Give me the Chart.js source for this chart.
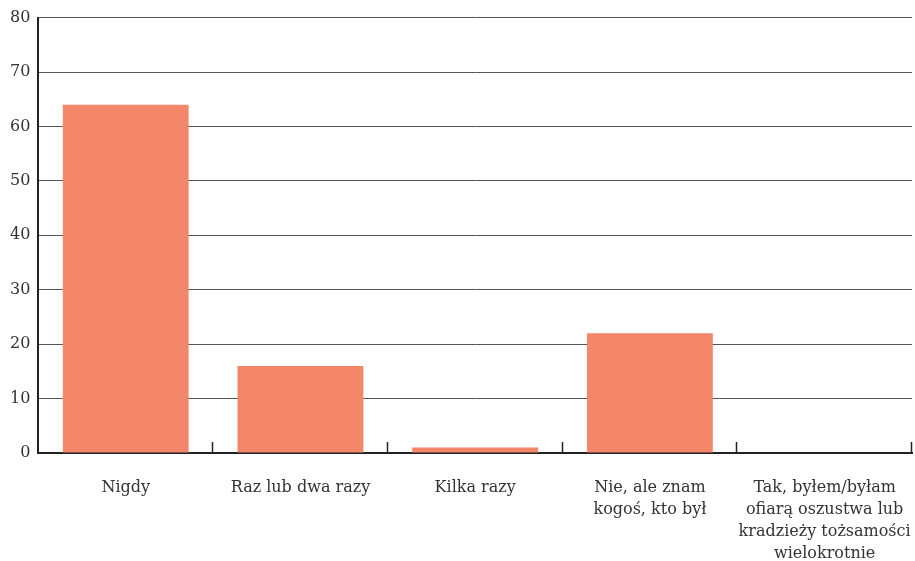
<!DOCTYPE html>
<html>
<head>
    <meta charset="utf-8">
    <title>Ofiara oszustwa</title>
    <script src="https://cdn.jsdelivr.net/npm/chart.js"></script>
    <style>
        body { margin: 0; background: #fff; }
        #wrap { width: 915px; height: 561px; }
    </style>
</head>
<body>
    <div id="wrap"><canvas id="chart"></canvas></div>
    <script>
        const categories = [
            'Nigdy',
            'Raz lub dwa razy',
            'Kilka razy',
            ['Nie, ale znam', 'kogoś, kto był'],
            ['Tak, byłem/byłam', 'ofiarą oszustwa lub', 'kradzieży tożsamości', 'wielokrotnie']
        ];
        const values = [64, 16, 1, 22, 0];
        const yTicks = [0, 10, 20, 30, 40, 50, 60, 70, 80];

        // small upward tick marks at category boundaries
        const boundaryTicks = {
            id: 'boundaryTicks',
            afterDatasetsDraw(chart) {
                const x = chart.scales.x;
                const y = chart.scales.y;
                const ctx = chart.ctx;
                const base = y.getPixelForValue(0);
                ctx.save();
                ctx.strokeStyle = '#222';
                ctx.lineWidth = 1.5;
                for (let i = 1; i <= categories.length; i++) {
                    const px = Math.round(x.getPixelForValue(i - 0.5)) - 0.5;
                    ctx.beginPath();
                    ctx.moveTo(px, base);
                    ctx.lineTo(px, base - 11);
                    ctx.stroke();
                }
                ctx.restore();
            }
        };

        const ctx = document.getElementById('chart').getContext('2d');
        new Chart(ctx, {
            type: 'bar',
            data: {
                labels: categories,
                datasets: [{
                    data: values,
                    backgroundColor: '#F4866A',
                    borderWidth: 0,
                    barPercentage: 0.72,
                    categoryPercentage: 1
                }]
            },
            options: {
                animation: false,
                responsive: true,
                maintainAspectRatio: false,
                layout: { padding: { left: 2, right: 3, top: 11, bottom: 0 } },
                plugins: {
                    legend: { display: false },
                    tooltip: { enabled: false }
                },
                scales: {
                    x: {
                        afterFit(scale) {
                            scale.height = 108;
                            scale.paddingLeft = 0;
                            scale.paddingRight = 0;
                        },
                        grid: { display: false, drawTicks: false },
                        border: { display: true, color: '#222', width: 2 },
                        ticks: {
                            color: '#333',
                            maxRotation: 0,
                            autoSkip: false,
                            padding: 24,
                            font: { family: 'DejaVu Serif', size: 16, lineHeight: 1.375 }
                        }
                    },
                    y: {
                        min: 0,
                        max: 80,
                        afterBuildTicks(scale) {
                            scale.ticks = yTicks.map(v => ({ value: v }));
                        },
                        grid: {
                            color: '#555',
                            lineWidth: 1,
                            drawTicks: false
                        },
                        border: { display: true, color: '#222', width: 2 },
                        ticks: {
                            color: '#333',
                            padding: 8,
                            font: { family: 'DejaVu Serif', size: 16 }
                        }
                    }
                }
            },
            plugins: [boundaryTicks]
        });
    </script>
</body>
</html>
